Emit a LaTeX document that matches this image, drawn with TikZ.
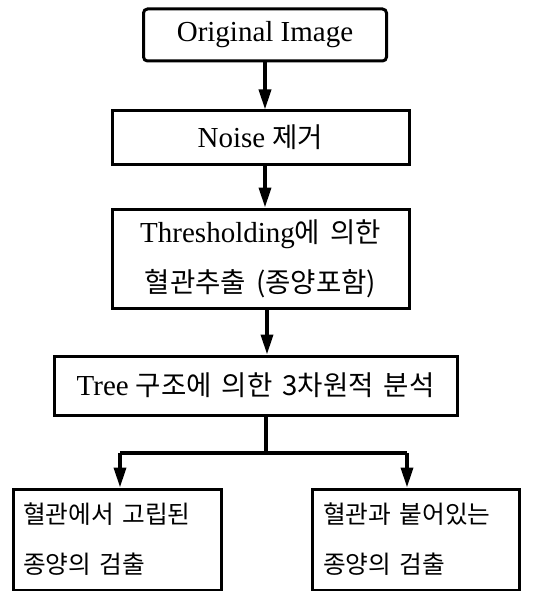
\documentclass[tikz,border=0pt]{standalone}
\usepackage{fontspec}
\setmainfont{Liberation Serif}
\newfontfamily\kr[Scale=0.95,WordSpace=1.6]{Noto Sans CJK KR}
\usepackage{tikz}
\usetikzlibrary{positioning, arrows, arrows.meta}

\begin{document}
\begin{tikzpicture}[x=1pt,y=-1pt,
  box/.style={draw,line width=3pt,inner sep=0pt,font=\fontsize{29}{50}\selectfont},
  leaf/.style={box,minimum height=101pt,text width=188pt,inner xsep=10pt,align=left,
    font=\fontsize{26}{50}\selectfont},
  flow/.style={line width=3.5pt,-{Triangle[length=20pt,width=12pt]}}]
\useasboundingbox (0,0) rectangle (541,591);
% steps
\node[box,rounded corners=4pt,minimum width=243pt,minimum height=52pt] (orig) at (265,35) {Original Image};
\node[box,minimum width=297pt,minimum height=53pt] (noise) at (260.5,137.5) {Noise {\kr 제거}};
\node[box,minimum width=297pt,minimum height=99pt,align=center] (thres) at (260.5,258.5)
  {Thresholding{\kr 에 의한}\\{\kr 혈관추출 (종양포함)}};
\node[box,minimum width=403pt,minimum height=59pt] (tree) at (255.5,385.5) {Tree {\kr 구조에 의한 3차원적 분석}};
\node[leaf] (isol) at (117,539.5) {\kr 혈관에서 고립된\\종양의 검출};
\node[leaf,text width=185pt,inner xsep=11pt] (attach) at (415.5,539.5) {\kr 혈관과 붙어있는\\종양의 검출};
% arrows
\draw[flow] (orig.south) -- (orig.south |- noise.north);
\draw[flow] (orig.south |- noise.south) -- (orig.south |- thres.north);
\draw[flow] (267,0 |- thres.south) -- (267,0 |- tree.north);
% split
\coordinate (split) at (266,453);
\coordinate (lt) at (120,453);
\coordinate (rt) at (407,453);
\draw[line width=3.5pt] (split |- tree.south) -- (split);
\draw[line width=3.5pt] (lt) -- (rt);
\draw[flow] (lt) -- (lt |- isol.north);
\draw[flow] (rt) -- (rt |- attach.north);
\end{tikzpicture}
\end{document}
